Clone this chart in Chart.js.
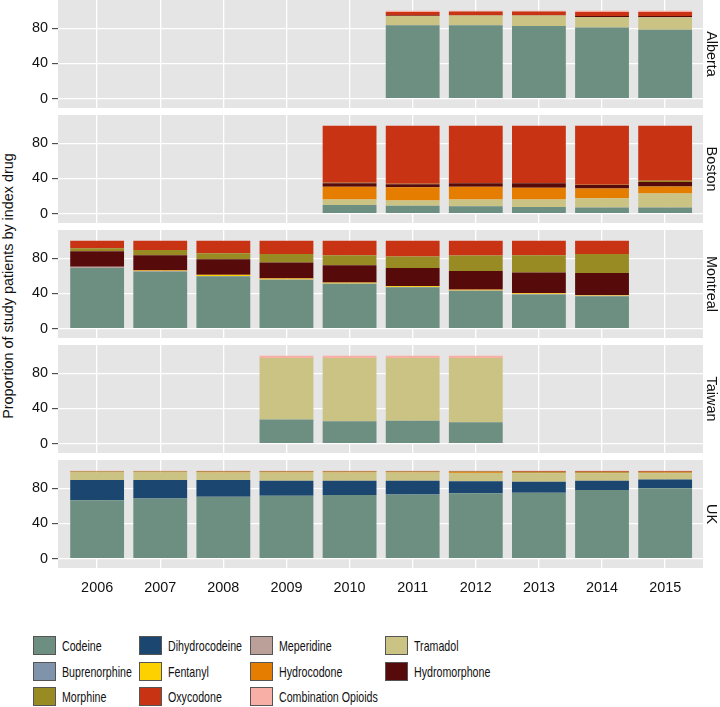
<!DOCTYPE html>
<html>
<head>
<meta charset="utf-8">
<script src="https://cdn.jsdelivr.net/npm/chart.js@4"></script>
<style>
body { margin: 0; background: #fff; font-family: 'Liberation Sans', Arial, sans-serif; }
#wrap { position: relative; width: 720px; height: 707px; overflow: hidden; }
#wrap canvas { position: absolute; left: 0; }
#ytitle { position: absolute; left: 8px; top: 286px; transform: translate(-50%, -50%) rotate(-90deg);
  white-space: nowrap; font-size: 14.4px; color: #111; }
.lg { position: absolute; height: 19px; display: flex; align-items: center; white-space: nowrap;
  font-size: 15px; color: #111; }
.lg i { display: inline-block; width: 21px; height: 17px; border: 1px solid #555; margin-right: 6px; flex: none; }
.lg span { display: inline-block; transform: scaleX(0.71); transform-origin: left center; }
</style>
</head>
<body>
<div id="wrap">
  <div id="ytitle">Proportion of study patients by index drug</div>
</div>
<script>
const years = [2006, 2007, 2008, 2009, 2010, 2011, 2012, 2013, 2014, 2015];
const yTicks = [0, 40, 80];
const drugs = ['Codeine', 'Dihydrocodeine', 'Meperidine', 'Tramadol', 'Buprenorphine', 'Fentanyl',
  'Hydrocodone', 'Hydromorphone', 'Morphine', 'Oxycodone', 'Combination Opioids'];
const drugColors = ['#6d8f82', '#1b4670', '#bba09a', '#cbc383', '#7f93aa', '#fdd000',
  '#e47d00', '#560a0a', '#998b24', '#c83314', '#f7afa6'];
const regions = ['Alberta', 'Boston', 'Montreal', 'Taiwan', 'UK'];
const _ = null;

// percent of patients per index drug, by year
const alberta = {
  'Codeine':             [_, _, _, _, _, 83.5, 83.5, 82.5, 81, 78.5],
  'Tramadol':            [_, _, _, _, _, 10.5, 11, 12, 12, 14],
  'Hydromorphone':       [_, _, _, _, _, 0.5, 0.5, 0.5, 1, 1.5],
  'Oxycodone':           [_, _, _, _, _, 4, 4, 4, 4.5, 4.5],
  'Combination Opioids': [_, _, _, _, _, 1.5, 1, 1, 1.5, 1.5]
};
const boston = {
  'Codeine':       [_, _, _, _, 10, 9, 8.5, 7.5, 7, 7],
  'Tramadol':      [_, _, _, _, 6, 6, 7.5, 8.5, 10.5, 16],
  'Hydrocodone':   [_, _, _, _, 14.5, 15, 14.5, 13.5, 11, 8],
  'Hydromorphone': [_, _, _, _, 4, 3.5, 4, 5, 4, 5],
  'Morphine':      [_, _, _, _, 0.7, 0.5, 0.5, 0.5, 0.5, 1.5],
  'Oxycodone':     [_, _, _, _, 64.8, 66, 65, 65, 67, 62.5]
};
const montreal = {
  'Codeine':       [69, 65, 59.5, 55.5, 51, 47, 43, 39, 37, _],
  'Meperidine':    [1.5, 0.6, 0.4, 0.3, 0.3, 0.3, 0.3, 0.3, 0.3, _],
  'Fentanyl':      [0, 0.3, 1, 1, 0.8, 0.8, 0.8, 0.8, 0.6, _],
  'Hydrocodone':   [0, 0.6, 0.5, 0.5, 0.5, 0.5, 0.5, 0.4, 0.4, _],
  'Hydromorphone': [17.5, 17, 17.5, 18, 19.5, 20.5, 21, 23.5, 25, _],
  'Morphine':      [3.5, 6, 7, 9.5, 11.5, 13, 17.5, 19.5, 21.5, _],
  'Oxycodone':     [8.5, 10.5, 14.1, 15.2, 16.4, 17.9, 16.9, 16.5, 15.2, _]
};
const taiwan = {
  'Codeine':             [_, _, _, 27.5, 25.5, 26, 24.5, _, _, _],
  'Tramadol':            [_, _, _, 70, 72, 71.5, 73, _, _, _],
  'Combination Opioids': [_, _, _, 2.5, 2.5, 2.5, 2.5, _, _, _]
};
const uk = {
  'Codeine':             [66.5, 68.5, 70.5, 71.5, 72.5, 73, 74.5, 75, 78, 80],
  'Dihydrocodeine':      [23, 21, 19, 17, 16, 15.5, 13.5, 12.5, 10.5, 10],
  'Tramadol':            [8.5, 8.5, 8.5, 9.5, 9.5, 9.5, 9.5, 9.5, 8.5, 7],
  'Buprenorphine':       [0, 0, 0, 0, 0, 0, 0, 0, 0, 0.5],
  'Hydrocodone':         [0.3, 0.3, 0.5, 0.5, 0.5, 0.5, 0.7, 0.8, 0.8, 0.5],
  'Morphine':            [0.7, 0.7, 0.7, 0.7, 0.7, 0.7, 0.8, 1, 1, 0.8],
  'Oxycodone':           [0.5, 0.5, 0.5, 0.5, 0.5, 0.5, 0.7, 0.9, 1, 1],
  'Combination Opioids': [0.5, 0.5, 0.3, 0.3, 0.3, 0.3, 0.3, 0.3, 0.2, 0.2]
};
const regionData = [alberta, boston, montreal, taiwan, uk];

const wrap = document.getElementById('wrap');
const font = { family: "'Liberation Sans', Arial, sans-serif", size: 14.4 };

const panelBg = {
  id: 'panelBg',
  beforeDraw(chart) {
    const a = chart.chartArea, c = chart.ctx;
    c.save();
    c.fillStyle = '#e5e5e5';
    c.fillRect(a.left, a.top, a.right - a.left, a.bottom - a.top);
    c.restore();
  }
};

regions.forEach(function(name, r) {
  const last = r === regions.length - 1;
  const canvas = document.createElement('canvas');
  canvas.width = 720;
  canvas.height = last ? 148 : 108;
  canvas.style.top = (r * 115) + 'px';
  wrap.appendChild(canvas);
  const data = regionData[r];

  new Chart(canvas.getContext('2d'), {
    type: 'bar',
    data: {
      labels: years,
      datasets: drugs.map((d, i) => ({
        label: d,
        data: data[d] || years.map(() => null),
        backgroundColor: drugColors[i],
        borderWidth: 0,
        barPercentage: 0.853,
        categoryPercentage: 1,
        xAxisID: 'x',
        yAxisID: 'y'
      }))
    },
    options: {
      responsive: false,
      animation: false,
      layout: { padding: 0 },
      scales: {
        x: {
          type: 'linear',
          stacked: true,
          offset: false,
          min: 2005.38,
          max: 2015.6,
          afterBuildTicks: s => { s.ticks = years.map(v => ({ value: v })); },
          grid: { color: '#ffffff', lineWidth: 1.3, drawTicks: false, offset: false },
          border: { display: false },
          ticks: { display: last, color: '#111', font: font, padding: 11, callback: v => String(v) },
          afterFit: s => { s.height = last ? 40 : 0; s.paddingLeft = 0; s.paddingRight = 0; }
        },
        y: {
          stacked: true,
          min: -10.6,
          max: 112.2,
          afterBuildTicks: s => { s.ticks = yTicks.map(v => ({ value: v })); },
          grid: { color: '#ffffff', lineWidth: 1.3, tickColor: '#333', tickLength: 6, tickWidth: 1 },
          border: { display: false },
          ticks: { color: '#111', font: font, padding: 4 },
          afterFit: s => { s.width = 58; s.paddingTop = 0; s.paddingBottom = 0; }
        },
        strip: {
          position: 'right',
          grid: { display: false },
          border: { display: false },
          ticks: { display: false },
          title: { display: true, text: name, color: '#111', font: font, padding: 0 },
          afterFit: s => { s.width = 17; s.paddingTop = 0; s.paddingBottom = 0; }
        }
      },
      plugins: {
        legend: { display: false },
        tooltip: { enabled: false }
      }
    },
    plugins: [panelBg]
  });
});

// legend, 4 columns
const colX = [33, 139, 250, 385];
const rowY = [636, 662, 687];
drugs.forEach(function(d, i) {
  const item = document.createElement('div');
  item.className = 'lg';
  item.style.left = colX[i % 4] + 'px';
  item.style.top = rowY[Math.floor(i / 4)] + 'px';
  item.innerHTML = '<i style="background:' + drugColors[i] + '"></i><span>' + d + '</span>';
  wrap.appendChild(item);
});
</script>
</body>
</html>
